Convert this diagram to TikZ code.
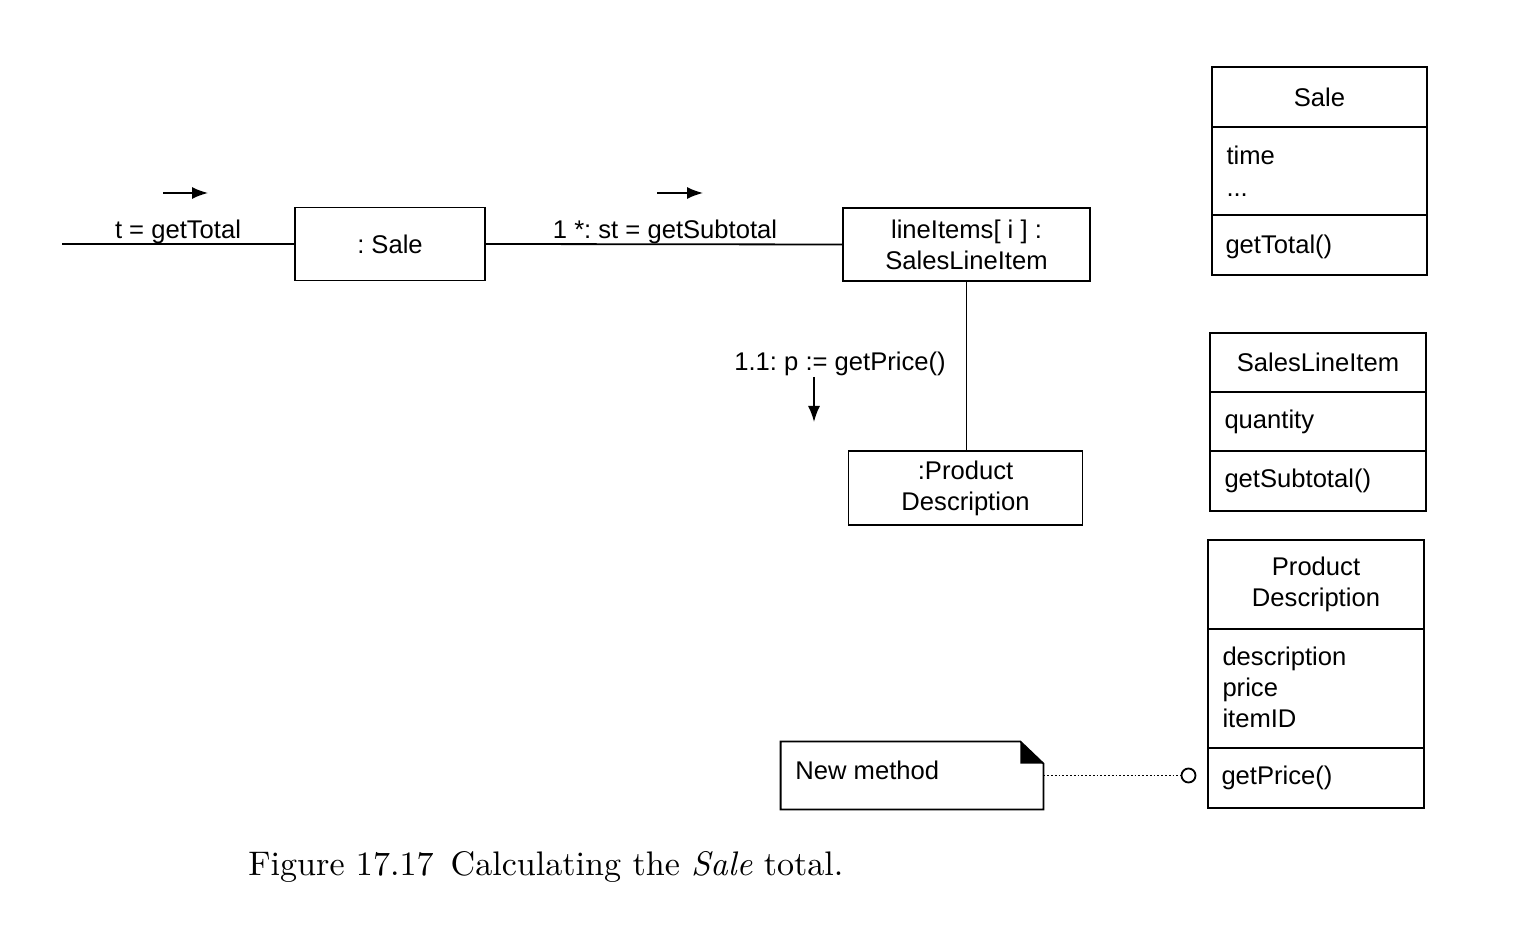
\documentclass[tikz,border=0pt]{standalone}
\usepackage{fontspec}
\newfontfamily\diagfont{Liberation Sans}
\usetikzlibrary{arrows.meta}
\frenchspacing
\begin{document}
\begin{tikzpicture}[x=0.5pt,y=-0.5pt,
  every node/.style={font=\diagfont\fontsize{12.8}{15.5}\selectfont, inner sep=0pt},
  obj/.style={draw, line width=0.9pt, align=center},
  comp/.style={draw, line width=0.9pt},
  lbl/.style={anchor=west, align=left},
  conn/.style={line width=0.9pt},
  msg/.style={line width=0.8pt, -{Latex[length=8pt,width=6pt]}}]
\fill[white] (0,0) rectangle (1516,940);
\useasboundingbox (0,0) rectangle (1516,940);

% objects
\node[obj, minimum width=95pt, minimum height=36.5pt] (sale) at (390,244) {: Sale};
\node[obj, minimum width=123.5pt, minimum height=36.5pt] (li) at (966.5,244.5) {lineItems[ i ] :\\SalesLineItem};
\node[obj, minimum width=117pt, minimum height=37pt] (pd) at (965.5,488) {:Product\\Description};

% connectors
\coordinate (start) at (62,244);
\draw[conn] (start) -- (sale.west);
\draw[conn] (sale.east) -- (li.west);
\draw[conn] (li.south) -- (li.south |- pd.north);

% messages
\node (m1) at (178,232) {t = getTotal};
\coordinate (a1s) at (163,193); \coordinate (a1e) at (208,193);
\draw[msg] (a1s) -- (a1e);
\node (m2) at (665,232) {1 *: st = getSubtotal};
\coordinate (a2s) at (657,193); \coordinate (a2e) at (703,193);
\draw[msg] (a2s) -- (a2e);
\node (m3) at (840,364) {1.1: p := getPrice()};
\coordinate (a3s) at (814,377); \coordinate (a3e) at (814,422);
\draw[msg] (a3s) -- (a3e);

% class Sale
\node[comp, minimum width=107.5pt, minimum height=30pt] (c1h) at (1319.5,97) {};
\node[comp, minimum width=107.5pt, minimum height=44pt] (c1a) at (1319.5,171) {};
\node[comp, minimum width=107.5pt, minimum height=30pt] (c1m) at (1319.5,245) {};
\node at (c1h.center) {Sale};
\node[lbl, anchor=north west, align=left, font=\diagfont\fontsize{12.8}{16}\selectfont] at ([xshift=7.5pt,yshift=-9.5pt]c1a.north west) {time\\...};
\node[lbl] at ([xshift=7pt,yshift=-1pt]c1m.west) {getTotal()};

% class SalesLineItem
\node[comp, minimum width=108pt, minimum height=29.5pt] (c2h) at (1318,362.5) {};
\node[comp, minimum width=108pt, minimum height=29.5pt] (c2a) at (1318,421.5) {};
\node[comp, minimum width=108pt, minimum height=30pt] (c2m) at (1318,481) {};
\node at (c2h.center) {SalesLineItem};
\node[lbl] at ([xshift=7.5pt]c2a.west) {quantity};
\node[lbl] at ([xshift=7.5pt]c2m.west) {getSubtotal()};

% class ProductDescription
\node[comp, minimum width=108pt, minimum height=44.5pt] (c3h) at (1316,584.5) {};
\node[comp, minimum width=108pt, minimum height=59.5pt] (c3a) at (1316,688.5) {};
\node[comp, minimum width=108pt, minimum height=30pt] (c3m) at (1316,778) {};
\node[align=center] at (c3h.center) {Product\\Description};
\node[lbl] at ([xshift=7.5pt,yshift=0.5pt]c3a.west) {description\\price\\itemID};
\node[lbl] at ([xshift=7pt]c3m.west) {getPrice()};

% note
\node[minimum width=131pt, minimum height=33.5pt] (note) at (912,775.5) {};
\draw[line width=0.9pt] (note.north west) -- ([xshift=-11.5pt]note.north east) -- ([yshift=-11pt]note.north east) -- (note.south east) -- (note.south west) -- cycle;
\fill ([xshift=-11.5pt]note.north east) -- ([xshift=-11.5pt,yshift=-11pt]note.north east) -- ([yshift=-11pt]note.north east) -- cycle;
\node[lbl] at (795,770) {New method};
\node[draw, circle, line width=0.9pt, minimum size=7pt] (circ) at (1188.5,775.5) {};
\draw[line width=0.9pt, densely dotted] (note.east |- circ.west) -- (circ.west);

% caption
\node[anchor=base west, font=\rmfamily] (cap) at (248,875) {\resizebox{297.5pt}{!}{Figure 17.17\enspace Calculating the \textit{Sale} total.}};
\end{tikzpicture}
\end{document}
